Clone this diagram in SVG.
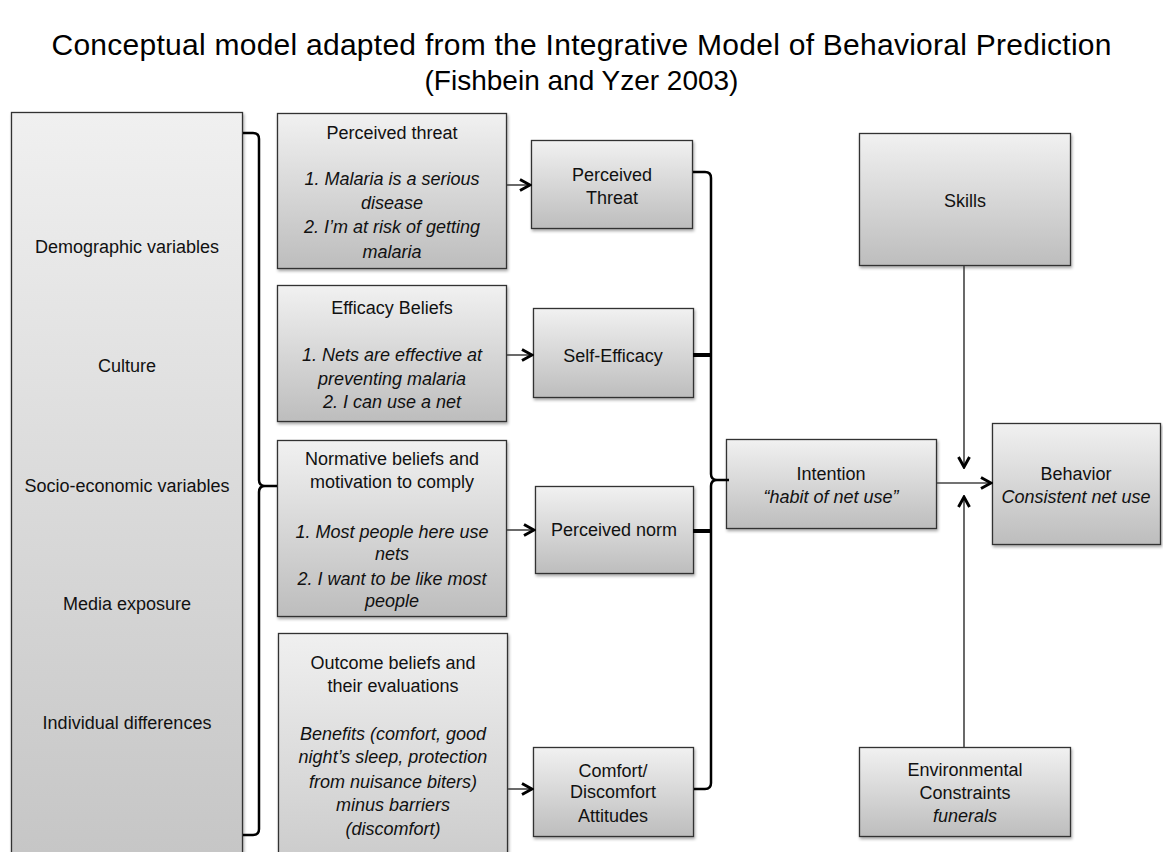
<svg xmlns="http://www.w3.org/2000/svg" width="1163" height="852" viewBox="0 0 1163 852">
<defs>
<linearGradient id="g" x1="0" y1="0" x2="0" y2="1">
<stop offset="0" stop-color="#f1f1f1"/>
<stop offset="1" stop-color="#bdbdbd"/>
</linearGradient>
<linearGradient id="gl" gradientUnits="userSpaceOnUse" x1="0" y1="112" x2="0" y2="852">
<stop offset="0" stop-color="#f0f0f0"/>
<stop offset="1" stop-color="#c6c6c6"/>
</linearGradient>
<linearGradient id="go" gradientUnits="userSpaceOnUse" x1="0" y1="633" x2="0" y2="852">
<stop offset="0" stop-color="#f0f0f0"/>
<stop offset="1" stop-color="#cdcdcd"/>
</linearGradient>
<filter id="sh" x="-10%" y="-10%" width="130%" height="130%">
<feDropShadow dx="1" dy="2" stdDeviation="1.5" flood-color="#000" flood-opacity="0.35"/>
</filter>
<marker id="ah" markerUnits="userSpaceOnUse" viewBox="0 0 14 14" markerWidth="14" markerHeight="14" refX="12" refY="7" orient="auto">
<path d="M2,1.5 L12,7 L2,12.5" fill="none" stroke="#000" stroke-width="2.9" stroke-linejoin="miter"/>
</marker>
</defs>
<style>
.box{stroke:#333;stroke-width:1.3;filter:url(#sh)}
.t{font-family:"Liberation Sans",Arial,sans-serif;font-size:18px;fill:#111;text-anchor:middle}
.i{font-style:italic}
.title{font-family:"Liberation Sans",Arial,sans-serif;font-size:28px;fill:#000;text-anchor:middle}
.br{fill:none;stroke:#000;stroke-width:2.5;stroke-linejoin:round}
.tk{fill:none;stroke:#000;stroke-width:4}
.ar{fill:none;stroke:#444;stroke-width:1.6;marker-end:url(#ah)}
</style>
<text class="title" x="581.5" y="55" style="font-size:30px" textLength="1060" lengthAdjust="spacing">Conceptual model adapted from the Integrative Model of Behavioral Prediction</text>
<text class="title" x="581.5" y="90">(Fishbein and Yzer 2003)</text>

<g id="factors">
<rect class="box" x="11.5" y="112.5" width="231" height="760" fill="url(#gl)"/>
<text class="t" x="127" y="253">Demographic variables</text>
<text class="t" x="127" y="372">Culture</text>
<text class="t" x="127" y="492">Socio-economic variables</text>
<text class="t" x="127" y="610">Media exposure</text>
<text class="t" x="127" y="729">Individual differences</text>
</g>

<g id="threat-beliefs">
<rect class="box" x="277.5" y="113.5" width="229" height="155" fill="url(#g)"/>
<text class="t" x="392" y="139">Perceived threat</text>
<text class="t i" x="392" y="185">1. Malaria is a serious</text>
<text class="t i" x="392" y="209">disease</text>
<text class="t i" x="392" y="233">2. I’m at risk of getting</text>
<text class="t i" x="392" y="258">malaria</text>
</g>

<g id="efficacy-beliefs">
<rect class="box" x="277.5" y="285.5" width="229" height="136" fill="url(#g)"/>
<text class="t" x="392" y="314">Efficacy Beliefs</text>
<text class="t i" x="392" y="361">1. Nets are effective at</text>
<text class="t i" x="392" y="385">preventing malaria</text>
<text class="t i" x="392" y="408">2. I can use a net</text>
</g>

<g id="normative-beliefs">
<rect class="box" x="277.5" y="440.5" width="229" height="176" fill="url(#g)"/>
<text class="t" x="392" y="465">Normative beliefs and</text>
<text class="t" x="392" y="488">motivation to comply</text>
<text class="t i" x="392" y="538">1. Most people here use</text>
<text class="t i" x="392" y="560">nets</text>
<text class="t i" x="392" y="585">2. I want to be like most</text>
<text class="t i" x="392" y="607">people</text>
</g>

<g id="outcome-beliefs">
<rect class="box" x="278.5" y="633.5" width="229" height="240" fill="url(#go)"/>
<text class="t" x="393" y="669">Outcome beliefs and</text>
<text class="t" x="393" y="692">their evaluations</text>
<text class="t i" x="393" y="740">Benefits (comfort, good</text>
<text class="t i" x="393" y="763">night’s sleep, protection</text>
<text class="t i" x="393" y="788">from nuisance biters)</text>
<text class="t i" x="393" y="811">minus barriers</text>
<text class="t i" x="393" y="835">(discomfort)</text>
</g>

<g id="perceived-threat">
<rect class="box" x="531.5" y="140.5" width="161" height="88" fill="url(#g)"/>
<text class="t" x="612" y="181">Perceived</text>
<text class="t" x="612" y="204">Threat</text>
</g>

<g id="self-efficacy">
<rect class="box" x="533.5" y="308.5" width="160" height="89" fill="url(#g)"/>
<text class="t" x="613" y="362">Self-Efficacy</text>
</g>

<g id="perceived-norm">
<rect class="box" x="535.5" y="486.5" width="158" height="87" fill="url(#g)"/>
<text class="t" x="614" y="536">Perceived norm</text>
</g>

<g id="attitudes">
<rect class="box" x="533.5" y="747.5" width="160" height="89" fill="url(#g)"/>
<text class="t" x="613" y="777">Comfort/</text>
<text class="t" x="613" y="798">Discomfort</text>
<text class="t" x="613" y="822">Attitudes</text>
</g>

<g id="intention">
<rect class="box" x="726.5" y="439.5" width="210" height="89" fill="url(#g)"/>
<text class="t" x="831" y="480">Intention</text>
<text class="t i" x="831" y="503">“habit of net use”</text>
</g>

<g id="behavior">
<rect class="box" x="992.5" y="423.5" width="168" height="121" fill="url(#g)"/>
<text class="t" x="1076" y="480">Behavior</text>
<text class="t i" x="1076" y="503">Consistent net use</text>
</g>

<g id="skills">
<rect class="box" x="859.5" y="133.5" width="211" height="132" fill="url(#g)"/>
<text class="t" x="965" y="207">Skills</text>
</g>

<g id="environment">
<rect class="box" x="859.5" y="747.5" width="211" height="89" fill="url(#g)"/>
<text class="t" x="965" y="776">Environmental</text>
<text class="t" x="965" y="799">Constraints</text>
<text class="t i" x="965" y="822">funerals</text>
</g>

<g id="connectors">
<path class="br" d="M243,133 L253,133 Q259,133 259,139 L259,480 Q259,486 265,486 L277,486 M265,486 Q259,486 259,492 L259,829 Q259,835 253,835 L243,835"/>
<path class="br" d="M693,172 L705,172 Q711,172 711,178 L711,474 Q711,480 717,480 L729,480 M717,480 Q711,480 711,486 L711,783 Q711,789 705,789 L694,789"/>
<line class="tk" x1="693" y1="355" x2="711" y2="355"/>
<line class="tk" x1="693" y1="531" x2="711" y2="531"/>
<line class="ar" x1="507" y1="185" x2="530" y2="185"/>
<line class="ar" x1="507" y1="355" x2="532" y2="355"/>
<line class="ar" x1="507" y1="530" x2="534" y2="530"/>
<line class="ar" x1="508" y1="789" x2="532" y2="789"/>
<line class="ar" x1="937" y1="483" x2="991" y2="483"/>
<line class="ar" x1="964" y1="266" x2="964" y2="467"/>
<line class="ar" x1="964" y1="747" x2="964" y2="497"/>
</g>
</svg>
